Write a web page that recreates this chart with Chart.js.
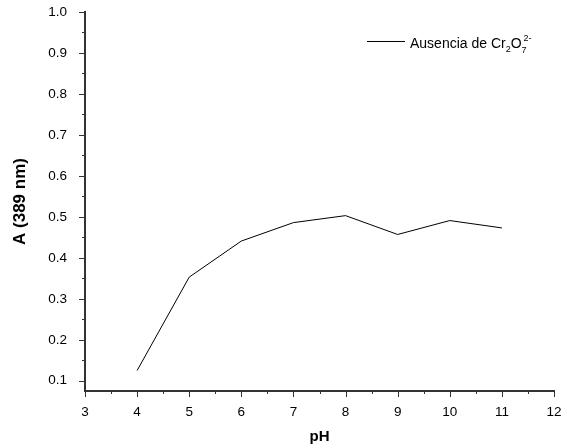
<!DOCTYPE html>
<html>
<head>
<meta charset="utf-8">
<script src="https://cdn.jsdelivr.net/npm/chart.js@4"></script>
<style>
  body { margin: 0; background: #fff; }
  #wrap { width: 563px; height: 446px; }
</style>
</head>
<body>
<div id="wrap"><canvas id="myChart" width="563" height="446"></canvas></div>
<script>
// Data
let phValues = [4, 5, 6, 7, 8, 9, 10, 11];
let absorbance = [0.125, 0.353, 0.441, 0.486, 0.503, 0.457, 0.491, 0.473];
let yTicks = [0.1, 0.2, 0.3, 0.4, 0.5, 0.6, 0.7, 0.8, 0.9, 1.0];
let xTicks = [3, 4, 5, 6, 7, 8, 9, 10, 11, 12];
let seriesName = 'Ausencia de Cr';

const FONT = 'Arial, "Liberation Sans", sans-serif';
const AXIS = '#333';

// Minor/major ticks drawn outward, Origin style
const tickPlugin = {
  id: 'ticks',
  afterDraw(chart) {
    let ctx = chart.ctx;
    let x = chart.scales.x, y = chart.scales.y;
    let area = chart.chartArea;
    ctx.save();
    ctx.strokeStyle = AXIS;
    ctx.lineWidth = 1;
    for (let v = 3; v <= 12.001; v += 0.5) {
      let px = Math.round(x.getPixelForValue(v)) + 0.5;
      let len = Number.isInteger(v) ? 6 : 3;
      ctx.beginPath();
      ctx.moveTo(px, area.bottom);
      ctx.lineTo(px, area.bottom + len);
      ctx.stroke();
    }
    for (let v = 0.1; v <= 1.001; v += 0.05) {
      let py = Math.round(y.getPixelForValue(v)) + 0.5;
      let major = Math.abs(v * 10 - Math.round(v * 10)) < 0.01;
      let len = major ? 6 : 3;
      ctx.beginPath();
      ctx.moveTo(area.left, py);
      ctx.lineTo(area.left - len, py);
      ctx.stroke();
    }
    ctx.restore();
  }
};

// Legend with sub/superscripts
const legendPlugin = {
  id: 'subLegend',
  afterDraw(chart) {
    let ctx = chart.ctx;
    ctx.save();
    let lx = 367, ly = 41;
    ctx.strokeStyle = '#000';
    ctx.lineWidth = 1;
    ctx.beginPath();
    ctx.moveTo(lx, ly + 0.5);
    ctx.lineTo(lx + 38, ly + 0.5);
    ctx.stroke();
    ctx.fillStyle = '#000';
    ctx.textBaseline = 'alphabetic';
    ctx.font = '14px ' + FONT;
    let tx = 410, base = 48;
    ctx.fillText(seriesName, tx, base);
    tx += ctx.measureText(seriesName).width;
    ctx.font = '9px ' + FONT;
    ctx.fillText('2', tx, base + 4);
    tx += ctx.measureText('2').width;
    ctx.font = '14px ' + FONT;
    ctx.fillText('O', tx, base);
    tx += ctx.measureText('O').width;
    ctx.font = '9px ' + FONT;
    ctx.fillText('7', tx, base + 5);
    ctx.fillText('2-', tx + 2, base - 7);
    ctx.restore();
  }
};

let ctx = document.getElementById('myChart').getContext('2d');
let myChart = new Chart(ctx, {
  type: 'line',
  data: {
    datasets: [{
      label: seriesName,
      data: phValues.map((p, i) => ({ x: p, y: absorbance[i] })),
      borderColor: '#000',
      borderWidth: 1,
      pointRadius: 0,
      tension: 0,
      fill: false
    }]
  },
  options: {
    responsive: false,
    animation: false,
    layout: { padding: { top: 12, right: 9, left: 0, bottom: 0 } },
    plugins: {
      legend: { display: false },
      tooltip: { enabled: false }
    },
    scales: {
      x: {
        type: 'linear',
        min: 3,
        max: 12,
        afterBuildTicks: (s) => { s.ticks = xTicks.map(v => ({ value: v })); },
        afterFit: (s) => { s.height = 55; s.paddingLeft = 0; s.paddingRight = 0; },
        grid: { display: false },
        border: { display: true, color: AXIS, width: 2 },
        ticks: {
          color: '#000',
          font: { family: FONT, size: 13.5 },
          padding: 5,
          maxRotation: 0,
          callback: (v) => String(v)
        },
        title: {
          display: true,
          text: 'pH',
          color: '#000',
          font: { family: FONT, size: 15, weight: 'bold' },
          padding: { top: 10, bottom: 0 }
        }
      },
      y: {
        type: 'linear',
        min: 0.075,
        max: 1.0,
        afterBuildTicks: (s) => { s.ticks = yTicks.map(v => ({ value: v })); },
        afterFit: (s) => { s.width = 85; s.paddingTop = 0; s.paddingBottom = 0; },
        grid: { display: false },
        border: { display: true, color: AXIS, width: 2 },
        ticks: {
          color: '#000',
          font: { family: FONT, size: 13.5 },
          padding: 10,
          callback: (v) => v.toFixed(1)
        },
        title: {
          display: true,
          text: 'A (389 nm)',
          color: '#000',
          font: { family: FONT, size: 17, weight: 'bold' },
          padding: { top: 10, bottom: 0 }
        }
      }
    }
  },
  plugins: [tickPlugin, legendPlugin]
});
</script>
</body>
</html>
